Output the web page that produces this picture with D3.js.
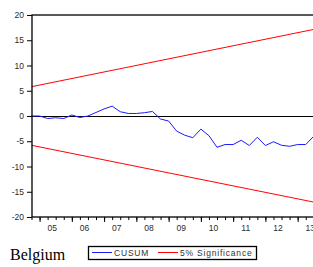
<!DOCTYPE html>
<html>
<head>
<meta charset="utf-8">
<script src="https://cdn.jsdelivr.net/npm/d3@7"></script>
<style>
  body { margin: 0; background: #fff; }
  svg { display: block; }
  .axis text { font-family: Arial, "Liberation Sans", sans-serif; font-size: 8.5px; fill: #2a2a2a; }
  .axis path, .axis line { stroke: #000; }
</style>
</head>
<body>
<script>
width = 313;
height = 267;

// quarterly observations, 2004Q4 .. 2013Q3
var quarters = [
  "2004Q4",
  "2005Q1", "2005Q2", "2005Q3", "2005Q4",
  "2006Q1", "2006Q2", "2006Q3", "2006Q4",
  "2007Q1", "2007Q2", "2007Q3", "2007Q4",
  "2008Q1", "2008Q2", "2008Q3", "2008Q4",
  "2009Q1", "2009Q2", "2009Q3", "2009Q4",
  "2010Q1", "2010Q2", "2010Q3", "2010Q4",
  "2011Q1", "2011Q2", "2011Q3", "2011Q4",
  "2012Q1", "2012Q2", "2012Q3", "2012Q4",
  "2013Q1", "2013Q2", "2013Q3"
];
var cusum = [
  0.0,
  0.0, -0.5, -0.35, -0.5,
  0.2, -0.3, 0.0, 0.7,
  1.4, 1.95, 0.85, 0.5,
  0.5, 0.65, 0.9, -0.6,
  -1.0, -3.0, -3.8, -4.3,
  -2.6, -3.9, -6.2, -5.65,
  -5.65, -4.8, -5.85, -4.2,
  -5.85, -5.1, -5.8, -6.0,
  -5.65, -5.65, -4.0
];
// 5% significance bounds at first and last observation
var sigQuarters = ["2004Q4", "2013Q3"];
var sigUpper = [5.8, 17.15];
var sigLower = [-5.8, -17.05];

var yTicks = [-20, -15, -10, -5, 0, 5, 10, 15, 20];
var yearTicks = [2005, 2006, 2007, 2008, 2009, 2010, 2011, 2012, 2013];
var yearLabels = ["05", "06", "07", "08", "09", "10", "11", "12", "13"];

var seriesNames = ["CUSUM", "5% Significance"];
var seriesColors = ["#1a1aff", "#ff0000"];
var countryName = "Belgium";

function qTime(s) {
  return +s.slice(0, 4) + (+s.slice(5) - 1) / 4;
}

var plotLeft = 32, plotTop = 15, plotBottom = 217, plotRight = 314;

x = d3.scaleLinear().domain([qTime("2004Q4"), qTime("2013Q3")]).range([31.5, 313.8]);
y = d3.scaleLinear().domain([-20, 20]).range([plotBottom, plotTop]);

const svg = d3.select("body").append("svg")
  .attr("width", width).attr("height", height);

// zero line
svg.append("line")
  .attr("x1", plotLeft).attr("x2", plotRight)
  .attr("y1", Math.round(y(0)) + 0.5).attr("y2", Math.round(y(0)) + 0.5)
  .attr("stroke", "#000").attr("stroke-width", 1);

const line = d3.line()
  .x(function (d) { return x(qTime(d[0])); })
  .y(function (d) { return y(d[1]); });

svg.append("path")
  .datum(d3.zip(sigQuarters, sigUpper))
  .attr("d", line).attr("fill", "none")
  .attr("stroke", seriesColors[1]).attr("stroke-width", 1);
svg.append("path")
  .datum(d3.zip(sigQuarters, sigLower))
  .attr("d", line).attr("fill", "none")
  .attr("stroke", seriesColors[1]).attr("stroke-width", 1);
svg.append("path")
  .datum(d3.zip(quarters, cusum))
  .attr("d", line).attr("fill", "none")
  .attr("stroke", seriesColors[0]).attr("stroke-width", 1);

// frame
svg.append("rect")
  .attr("x", plotLeft).attr("y", plotTop)
  .attr("width", plotRight - plotLeft).attr("height", plotBottom - plotTop)
  .attr("fill", "none").attr("stroke", "#000").attr("stroke-width", 1.3);

// y axis
const gY = svg.append("g").attr("class", "axis")
  .attr("transform", `translate(${plotLeft},0)`)
  .call(d3.axisLeft(y).tickValues(yTicks).tickSize(5).tickPadding(3)
    .tickFormat(function (d) { return d; }));
gY.select(".domain").remove();

// x axis: quarter ticks, year ticks, year labels
const gXq = svg.append("g").attr("class", "axis")
  .attr("transform", `translate(0,${plotBottom})`)
  .call(d3.axisBottom(x).tickValues(quarters.map(qTime)).tickSize(3).tickFormat(""));
gXq.select(".domain").remove();
const gXy = svg.append("g").attr("class", "axis")
  .attr("transform", `translate(0,${plotBottom})`)
  .call(d3.axisBottom(x).tickValues(yearTicks).tickSize(5).tickFormat(""));
gXy.select(".domain").remove();
const gXl = svg.append("g").attr("class", "axis")
  .attr("transform", `translate(0,${plotBottom})`)
  .call(d3.axisBottom(x)
    .tickValues(yearTicks.map(function (d) { return d + 0.375; }))
    .tickSize(0).tickPadding(8)
    .tickFormat(function (d, i) { return yearLabels[i]; }));
gXl.select(".domain").remove();

// country label
svg.append("text")
  .attr("x", 10).attr("y", 260)
  .attr("font-family", "'Liberation Serif', 'Times New Roman', serif")
  .attr("font-size", 16).attr("fill", "#000")
  .text(countryName);

// legend
const legend = svg.append("g");
legend.append("rect")
  .attr("x", 88.5).attr("y", 246.5).attr("width", 168).attr("height", 13)
  .attr("fill", "#fff").attr("stroke", "#000").attr("stroke-width", 1.3);
var legX = [92, 158];
seriesNames.forEach(function (name, i) {
  legend.append("line")
    .attr("x1", legX[i]).attr("x2", legX[i] + 20)
    .attr("y1", 252.5).attr("y2", 252.5)
    .attr("stroke", seriesColors[i]).attr("stroke-width", 1);
  legend.append("text")
    .attr("x", legX[i] + 22).attr("y", 255.5)
    .attr("font-family", "Arial, 'Liberation Sans', sans-serif")
    .attr("font-size", 8.5).attr("letter-spacing", 0.8).attr("fill", "#333")
    .text(name);
});
</script>
</body>
</html>
